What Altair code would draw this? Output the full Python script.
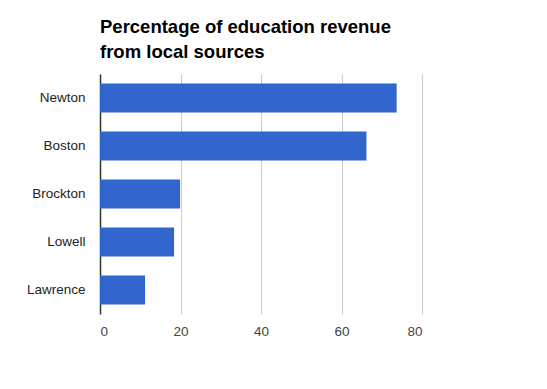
import altair as alt
import pandas as pd

cities = ["Newton", "Boston", "Brockton", "Lowell", "Lawrence"]
values = [73.7, 66.2, 19.9, 18.4, 11.2]
x_ticks = [0, 20, 40, 60, 80]

df = pd.DataFrame({"city": cities, "pct": values})

chart = alt.Chart(df).mark_bar(color="#3366cc").encode(
    x=alt.X("pct:Q", scale=alt.Scale(domain=[0, 80], nice=False),
            axis=alt.Axis(values=x_ticks, title=None, domain=False, ticks=False,
                          grid=True, gridColor="#cccccc", labelFontSize=13.5,
                          labelColor="#444444", labelPadding=10,
                          labelFont="Liberation Sans")),
    y=alt.Y("city:N", sort=cities,
            scale=alt.Scale(paddingInner=0.4, paddingOuter=0.2),
            axis=alt.Axis(title=None, ticks=False, domain=True, domainColor="#333333",
                          domainWidth=1.5, labelFontSize=13.5, labelColor="#222222",
                          labelPadding=15, labelFont="Liberation Sans", grid=False)),
).properties(
    width=322,
    height=240,
    title=alt.TitleParams(
        text=["Percentage of education revenue", "from local sources"],
        anchor="start", frame="group", fontSize=18.5, font="Liberation Sans",
        fontWeight="bold", color="#000000", lineHeight=25, offset=17, dy=19,
        baseline="alphabetic",
    ),
    autosize=alt.AutoSizeParams(type="none"),
    padding={"left": 92, "top": 66, "right": 30, "bottom": 50},
).configure_view(stroke=None)

chart.save("out.html", embed_options={"renderer": "svg", "actions": False})
